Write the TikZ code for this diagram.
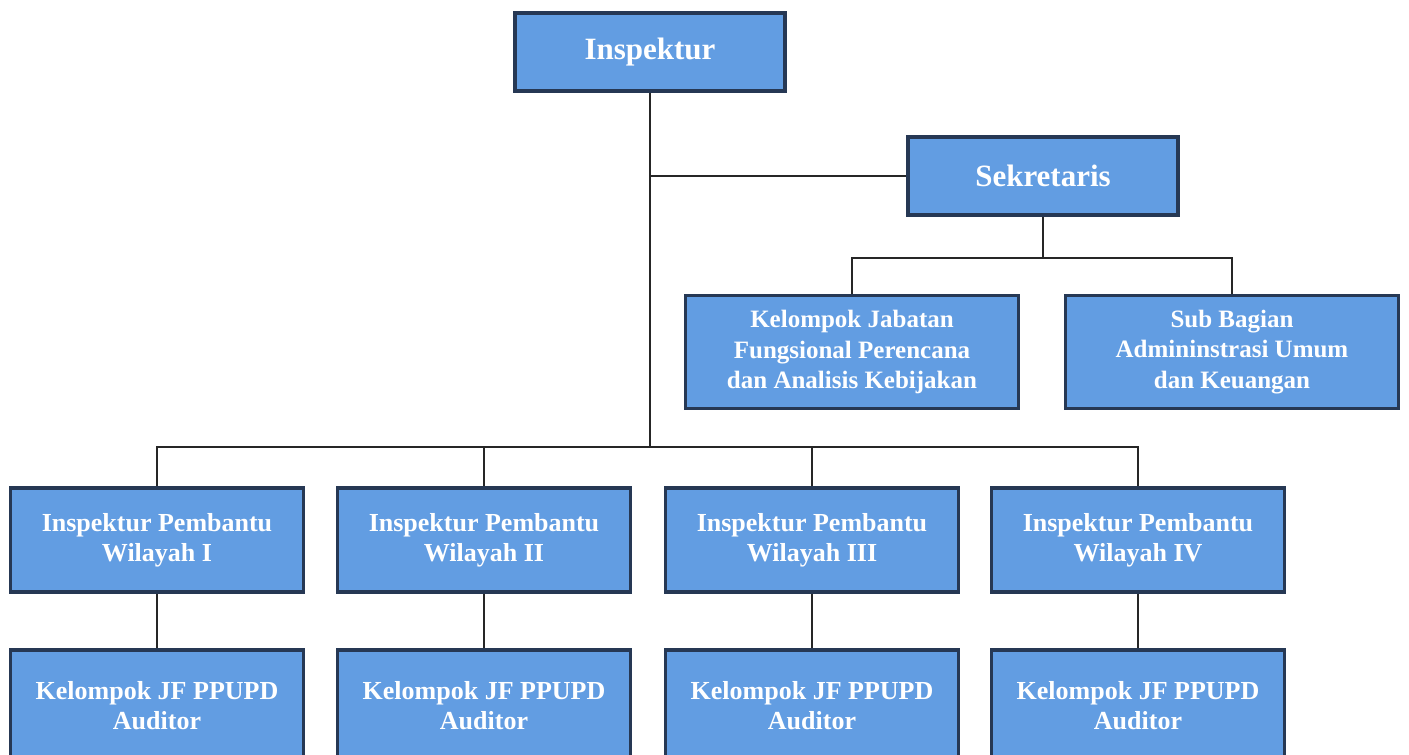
\documentclass[tikz,border=0pt]{standalone}
\usepackage{fontspec}
\setmainfont{Liberation Serif}
\usepackage{tikz}
\usetikzlibrary{positioning,calc}

\definecolor{boxfill}{RGB}{98,157,226}
\definecolor{boxline}{RGB}{38,56,84}

\tikzset{
  unit/.style={draw=boxline, line width=3.5pt, fill=boxfill, text=white,
               font=\bfseries\fontsize{26}{30}\selectfont, align=center,
               inner sep=0pt},
  headbox/.style={unit, font=\bfseries\fontsize{31}{34}\selectfont,
                  minimum width=270pt, minimum height=78pt},
  midbox/.style={unit, font=\bfseries\fontsize{25}{30.5}\selectfont,
                 minimum width=333pt, minimum height=113pt},
  wilbox/.style={unit, minimum width=293pt, minimum height=104pt},
  conn/.style={draw=black!85, line width=1.3pt}
}

\begin{document}
\begin{tikzpicture}[x=1pt,y=-1pt]
  \useasboundingbox (0,0) rectangle (1409,755);
  \clip (0,0) rectangle (1409,755);
  \fill[white] (0,0) rectangle (1409,755);

  % top level
  \node[headbox] (insp) at (650,52) {Inspektur};
  \node[headbox] (sek) at (1043,176) {Sekretaris};
  \node[midbox] (kjf) at (852,352)
    {Kelompok Jabatan\\ Fungsional Perencana\\ dan Analisis Kebijakan};
  \node[midbox] (sub) at (1232,352)
    {Sub Bagian\\ Admininstrasi Umum\\ dan Keuangan};

  % branch points
  \coordinate (busA) at (650,447);
  \coordinate (busB) at (1043,258);

  % inspektur pembantu and auditor groups
  \foreach \x/\r [count=\i] in {157/I,484/II,812/III,1138/IV}{
    \node[wilbox] (wil\i) at (\x,540) {Inspektur Pembantu\\ Wilayah \r};
    \node[wilbox, minimum height=112pt] (aud\i) at (\x,706)
      {Kelompok JF PPUPD\\ Auditor};
    \draw[conn] (wil\i.south) -- (aud\i.north);
  }

  % connectors
  \draw[conn] (insp.south) -- (busA);
  \draw[conn] (insp.south |- sek.west) -- (sek.west);
  \draw[conn] (sek.south) -- (busB);
  \draw[conn] (kjf.north) |- (busB) -| (sub.north);
  \draw[conn] (wil1.north) |- (busA) -| (wil4.north);
  \draw[conn] (wil2.north) -- (wil2.north |- busA);
  \draw[conn] (wil3.north) -- (wil3.north |- busA);
\end{tikzpicture}
\end{document}
